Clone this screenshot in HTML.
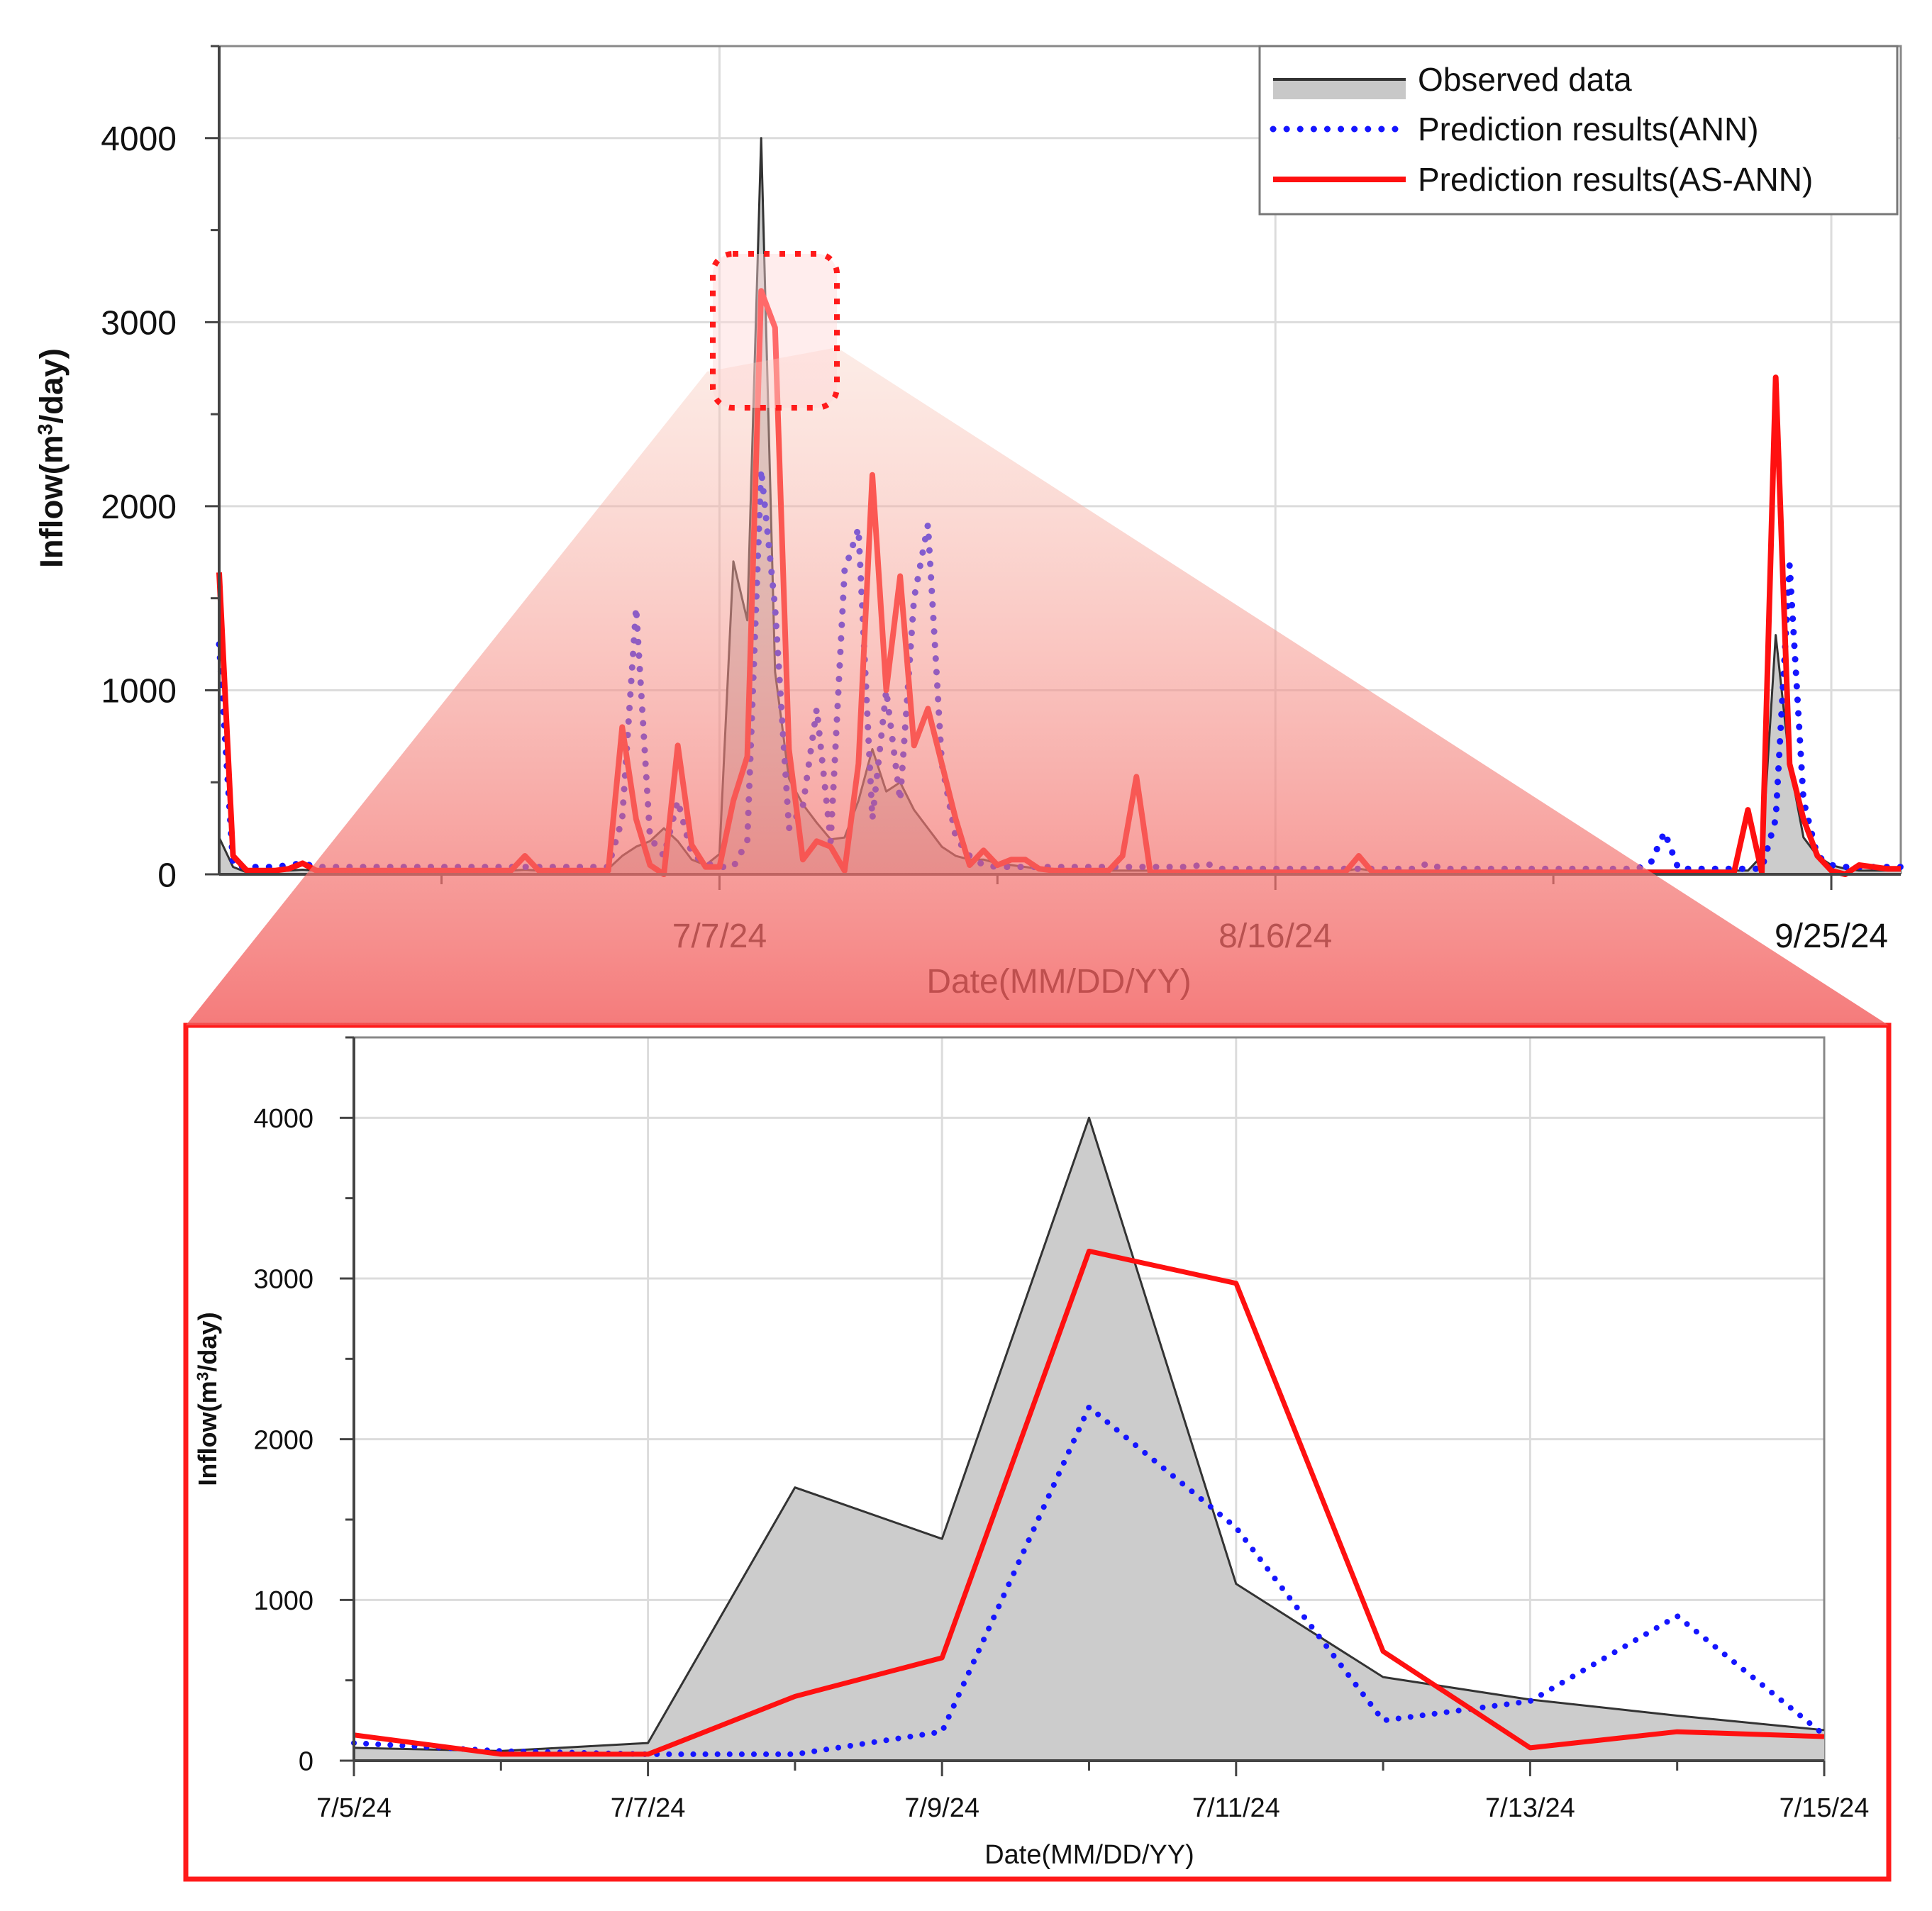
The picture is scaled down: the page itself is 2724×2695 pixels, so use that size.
<!DOCTYPE html>
<html><head><meta charset="utf-8">
<style>
html,body{margin:0;padding:0;background:#fff;}
svg{display:block;font-family:"Liberation Sans",sans-serif;}
</style></head>
<body>
<svg id="chart" width="2724" height="2695" viewBox="0 0 2724 2695" xmlns="http://www.w3.org/2000/svg">
<defs>
<linearGradient id="tri" x1="0" y1="0" x2="0" y2="1">
<stop offset="0" stop-color="#f8c8b8" stop-opacity="0.35"/>
<stop offset="1" stop-color="#f25a5a" stop-opacity="0.8"/>
</linearGradient>
</defs>
<g id="top"></g>
<g id="bottom"></g>
<g id="overlay"></g>
</svg>
<script>
// ---------- data (top chart: daily, Jun 1 .. Sep 30 2024) ----------
const observed = [
200,40,10,10,15,20,25,20,20,20,
20,20,20,20,20,20,20,20,20,20,
20,20,25,20,20,20,20,20,30,100,
150,180,250,180,80,50,110,1700,1380,4000,
1100,520,380,280,190,200,400,680,450,500,
350,250,150,100,80,80,60,50,40,30,
30,20,20,20,20,20,20,20,20,20,
20,20,20,20,20,20,20,20,20,20,
20,20,30,20,20,20,20,20,20,20,
20,20,20,20,20,20,20,20,20,20,
20,20,20,20,20,20,20,20,20,20,
20,100,1300,600,200,100,50,30,20,20,
20,20];
const ann = [
1250,50,40,40,40,50,60,40,40,40,
40,40,40,40,40,40,40,40,40,40,
40,40,40,40,40,40,40,40,40,300,
1450,200,100,400,110,60,40,40,180,2200,
1450,250,370,900,180,1650,1880,300,1000,400,
1500,1900,600,200,100,50,40,40,40,40,
40,40,40,40,40,40,40,40,40,40,
40,60,30,30,30,30,30,30,30,30,
30,30,30,30,30,30,30,60,30,30,
30,30,30,30,30,30,30,30,30,30,
30,30,30,60,230,30,30,30,30,30,
30,30,300,1680,400,100,50,40,40,40,
40,40];
const asann = [
1640,100,20,20,20,30,60,20,20,20,
20,20,20,20,20,20,20,20,20,20,
20,20,100,20,20,20,20,20,20,800,
300,50,0,700,160,40,40,400,640,3170,
2970,680,80,180,150,20,600,2170,1000,1620,
700,900,600,300,50,130,50,80,80,30,
20,20,20,20,20,100,530,10,10,10,
10,10,10,10,10,10,10,10,10,10,
10,10,100,10,10,10,10,10,10,10,
10,10,10,10,10,10,10,10,10,10,
10,10,10,10,10,10,10,10,10,10,
350,10,2700,600,300,100,20,0,50,40,
30,30];
const topXTicks = ["7/7/24","8/16/24","9/25/24"];
const topXTickDays = [36,76,116];
const yTicks = [0,1000,2000,3000,4000];
// ---------- data (bottom zoom chart: Jul 5 .. Jul 15) ----------
const zoomDays = [0,1,2,3,4,5,6,7,8,9,10];
const zoomObs = [80,60,110,1700,1380,4000,1100,520,380,280,190];
const zoomAnn = [110,60,40,40,180,2200,1450,250,370,900,160];
const zoomAs = [160,40,40,400,640,3170,2970,680,80,180,150];
const zoomTickLabels = ["7/5/24","7/7/24","7/9/24","7/11/24","7/13/24","7/15/24"];

const NS="http://www.w3.org/2000/svg";
function mk(parent,tag,attrs,text){const e=document.createElementNS(NS,tag);for(const k in attrs)e.setAttribute(k,attrs[k]);if(text!==undefined)e.textContent=text;parent.appendChild(e);return e;}

function drawPanel(g,cfg){
  const {L,R,T,B,xmin,xmax,ymax,xs,obs,an,as,fs,lw,dotw,dotgap}=cfg;
  const X=v=>L+(v-xmin)/(xmax-xmin)*(R-L);
  const Y=v=>B-v/ymax*(B-T);
  yTicks.forEach(v=>{if(v>0){const l=mk(g,'line',{x1:L,x2:R,y1:Y(v),y2:Y(v),stroke:'#dcdcdc','stroke-width':3});
    
    }});
  cfg.vgrid.forEach(d=>{const l=mk(g,'line',{x1:X(d),x2:X(d),y1:T,y2:B,stroke:'#dcdcdc','stroke-width':3});
    
    });
  const f=mk(g,'path',{d:`M${L},${B}V${T}H${R}V${B}`,fill:'none',stroke:'#888','stroke-width':3});
  
  
  let pts=xs.map((d,i)=>`${X(d)},${Y(obs[i])}`).join(' ');
  const area=mk(g,'polygon',{points:`${X(xs[0])},${Y(0)} ${pts} ${X(xs[xs.length-1])},${Y(0)}`,fill:'#cccccc'});
  
  
  const ol=mk(g,'polyline',{points:pts,fill:'none',stroke:'#333','stroke-width':cfg.olw,'stroke-linejoin':'round'});
  
  
  const al=mk(g,'polyline',{points:xs.map((d,i)=>`${X(d)},${Y(an[i])}`).join(' '),fill:'none',stroke:'#1515ff','stroke-width':dotw,'stroke-dasharray':`0.1 ${dotgap}`,'stroke-linecap':'round','stroke-linejoin':'round'});
  
  
  const rl=mk(g,'polyline',{points:xs.map((d,i)=>`${X(d)},${Y(as[i])}`).join(' '),fill:'none',stroke:'#ff1010','stroke-width':lw,'stroke-linejoin':'round'});
  
  
  const ax=mk(g,'line',{x1:L,x2:R,y1:B,y2:B,stroke:'#444','stroke-width':4});
  
  
  const ay=mk(g,'line',{x1:L,x2:L,y1:T,y2:B,stroke:'#444','stroke-width':4});
  
  
  for(let v=0;v<=ymax;v+=500){const major=v%1000===0;mk(g,'line',{x1:L-(major?20:12),x2:L,y1:Y(v),y2:Y(v),stroke:'#444','stroke-width':3});}
  yTicks.forEach(v=>{const t=mk(g,'text',{x:L-cfg.yLabOff,y:Y(v)+fs*0.36,'text-anchor':'end','font-size':fs,fill:'#111'},String(v));
    
    });
  cfg.xtickAll.forEach(d=>mk(g,'line',{x1:X(d),x2:X(d),y1:B,y2:B+(cfg.xmajor.includes(d)?22:14),stroke:'#444','stroke-width':3}));
  cfg.xmajor.forEach((d,i)=>{const t=mk(g,'text',{x:X(d),y:cfg.xLabelY,'text-anchor':'middle','font-size':fs,fill:'#111'},cfg.xlabels[i]);
    
    });
  const xt=mk(g,'text',{x:cfg.xTitle[0],y:cfg.xTitle[1],'text-anchor':'middle','font-size':fs,fill:'#111'},'Date(MM/DD/YY)');
  
  
  const yt=mk(g,'text',{x:0,y:0,'text-anchor':'middle','font-size':fs*0.95,'font-weight':'bold',fill:'#111',transform:`translate(${cfg.yTitle[0]},${cfg.yTitle[1]}) rotate(-90)`});
  
  
  yt.appendChild(document.createTextNode('Inflow(m'));
  mk(yt,'tspan',{'font-size':fs*0.6,dy:-fs*0.3},'3');
  mk(yt,'tspan',{dy:fs*0.3},'/day)');
}

const topDays = observed.map((_,i)=>i);
const tg=document.getElementById('top');
drawPanel(tg,{L:309,R:2680,T:65,B:1233,xmin:0,xmax:121,ymax:4500,xs:topDays,obs:observed,an:ann,as:asann,fs:48,lw:8,olw:3,dotw:9,dotgap:19,yLabOff:60,
  vgrid:topXTickDays,xtickAll:[16,36,56,76,96,116],xmajor:topXTickDays,xlabels:topXTicks,xLabelY:1336,xTitle:[1493,1400],yTitle:[88,646]});

const ov=document.getElementById('overlay');
const tri=mk(ov,'polygon',{points:'997,524 1180,490 2663,1446 262,1446',fill:'url(#tri)'});


const db=mk(ov,'rect',{x:1005,y:358,width:175,height:217,rx:28,fill:'#ffd8d8','fill-opacity':0.45,stroke:'#ff1a1a','stroke-width':8,'stroke-dasharray':'8 14'});



const bg=document.getElementById('bottom');
const box=mk(bg,'rect',{x:262,y:1446,width:2401,height:1204,fill:'#fff',stroke:'#ff1a1a','stroke-width':7});


drawPanel(bg,{L:499,R:2572,T:1463,B:2483,xmin:0,xmax:10,ymax:4500,xs:zoomDays,obs:zoomObs,an:zoomAnn,as:zoomAs,fs:38,lw:7,olw:3,dotw:8,dotgap:17,yLabOff:57,
  vgrid:[2,4,6,8],xtickAll:zoomDays,xmajor:[0,2,4,6,8,10],xlabels:zoomTickLabels,xLabelY:2562,xTitle:[1536,2628],yTitle:[305,1973]});

const lg=mk(ov,'g',{});


mk(lg,'rect',{x:1776,y:65,width:899,height:237,fill:'#fff',stroke:'#777','stroke-width':3});
mk(lg,'rect',{x:1795,y:114,width:187,height:26,fill:'#c8c8c8'});
mk(lg,'line',{x1:1795,x2:1982,y1:112,y2:112,stroke:'#333','stroke-width':4});
mk(lg,'line',{x1:1795,x2:1982,y1:182,y2:182,stroke:'#1515ff','stroke-width':9,'stroke-dasharray':'0.1 19','stroke-linecap':'round'});
mk(lg,'line',{x1:1795,x2:1982,y1:253,y2:253,stroke:'#ff1010','stroke-width':8});
[["Observed data",112],["Prediction results(ANN)",182],["Prediction results(AS-ANN)",253]].forEach(([s,y])=>{
  const t=mk(lg,'text',{x:1999,y:y+16,'font-size':46,fill:'#111'},s);
  
  
});
</script>
</body></html>
